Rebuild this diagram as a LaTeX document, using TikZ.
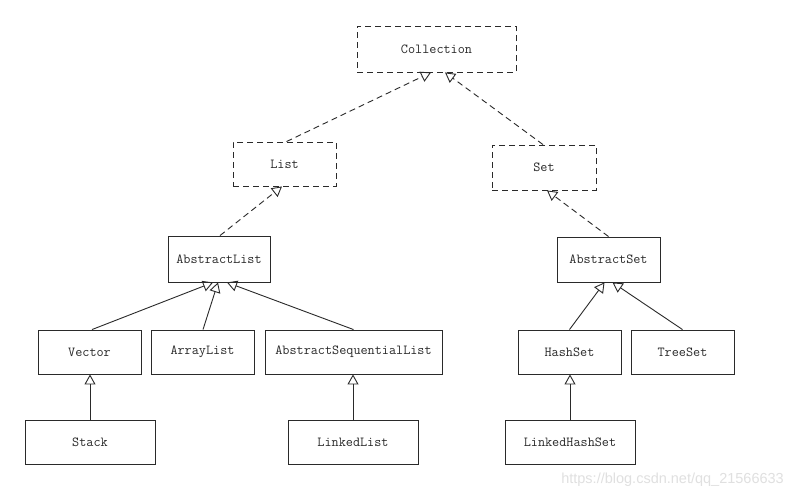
\documentclass[tikz,border=0pt]{standalone}
\usepackage{fontspec}
\newfontfamily\wmfont{Liberation Sans}
\usetikzlibrary{arrows.meta}
\definecolor{ink}{HTML}{2a2a2a}
\tikzset{
  box/.style={draw=ink, line width=0.9pt, text=ink, minimum height=44pt, inner sep=0pt,
    font=\ttfamily\fontsize{13.8}{14}\selectfont},
  ibox/.style={box, dash pattern=on 6pt off 4pt},
  inh/.style={draw=ink, line width=0.9pt, -{Triangle[open, length=10pt, width=11pt]}},
  iinh/.style={inh, dash pattern=on 6pt off 4pt},
}
\begin{document}
\begin{tikzpicture}[x=1pt, y=-1pt]
\useasboundingbox[fill=white] (0,0) rectangle (794,498);
\node[ibox, minimum width=159pt, minimum height=46pt] (coll) at (436.5,49) {Collection};
\node[ibox, minimum width=103pt] (list) at (284.5,164) {List};
\node[ibox, minimum width=104pt, minimum height=45pt] (set) at (544,167.5) {Set};
\node[box, minimum width=102pt, minimum height=46pt] (alist) at (219,259) {AbstractList};
\node[box, minimum width=103pt, minimum height=45pt] (aset) at (608.5,259.5) {AbstractSet};
\node[box, minimum width=103pt] (vector) at (89.5,352) {Vector};
\node[box, minimum width=103pt] (arraylist) at (202.5,352) {ArrayList};
\node[box, minimum width=177pt] (asl) at (353.5,352) {AbstractSequentialList};
\node[box, minimum width=103pt] (hashset) at (569.5,352) {HashSet};
\node[box, minimum width=103pt] (treeset) at (682.5,352) {TreeSet};
\node[box, minimum width=130pt] (stack) at (90,442) {Stack};
\node[box, minimum width=130pt] (linkedlist) at (353,442) {LinkedList};
\node[box, minimum width=130pt] (lhs) at (570,442) {LinkedHashSet};
% interface realisations
\draw[iinh] ([xshift=2pt]list.north) -- ([xshift=-5.5pt]coll.south);
\draw[iinh] ([xshift=-1pt]set.north) -- ([xshift=8.5pt]coll.south);
\draw[iinh] ([xshift=1pt]alist.north) -- ([xshift=-2.5pt]list.south);
\draw[iinh] (aset.north) -- ([xshift=3pt]set.south);
% inheritance
\draw[inh] ([xshift=2.5pt]vector.north) -- ([xshift=-6pt]alist.south);
\draw[inh] ([xshift=0.5pt]arraylist.north) -- ([xshift=-1pt]alist.south);
\draw[inh] (asl.north) -- ([xshift=8pt]alist.south);
\draw[inh] (hashset.north) -- ([xshift=-4pt]aset.south);
\draw[inh] (treeset.north) -- ([xshift=4pt]aset.south);
\draw[inh] (stack.north) -- (stack.north |- vector.south);
\draw[inh] (linkedlist.north) -- (linkedlist.north |- asl.south);
\draw[inh] (lhs.north) -- (lhs.north |- hashset.south);
% watermark
\node[anchor=east, text=black!12, font=\wmfont\fontsize{14.5}{15}\selectfont, inner sep=0pt] (wm) at (784,480) {https://blog.csdn.net/qq\_21566633};
\end{tikzpicture}
\end{document}
